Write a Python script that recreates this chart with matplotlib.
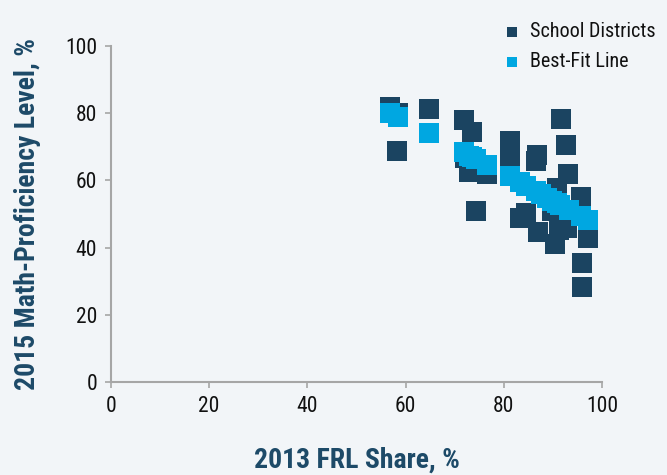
import matplotlib
matplotlib.use('Agg')
from matplotlib import pyplot as plt
from matplotlib import font_manager

# values
district_frl = [56.9, 58.5, 58.3, 64.8, 71.9, 73.6, 72.2, 73.0, 76.6, 74.4,
                81.3, 81.3, 86.8, 86.6, 91.7, 92.7, 93.1, 90.9, 95.8, 84.6,
                83.4, 87.0, 90.5, 89.9, 92.9, 91.3, 97.2, 96.0, 96.0]
district_math = [81.7, 80.2, 68.6, 81.1, 78.1, 74.3, 66.8, 62.6, 61.8, 51.0,
                 71.6, 67.1, 67.7, 65.9, 78.4, 70.4, 61.8, 57.6, 55.2, 50.4,
                 48.7, 44.5, 41.2, 51.0, 45.7, 45.1, 43.0, 35.3, 28.4]

fit_frl = [56.9, 58.4, 64.8, 71.9, 73.0, 73.6, 74.4, 76.6, 81.3, 83.4,
           84.6, 86.6, 87.6, 88.8, 89.9, 90.9, 91.5, 93.3, 95.8, 97.2]
fit_math = [80.2, 79.0, 74.0, 68.3, 67.4, 67.1, 66.5, 64.7, 61.2, 59.4,
            58.2, 56.7, 56.0, 54.9, 54.0, 53.4, 52.8, 51.3, 49.3, 48.1]

ticks = [0, 20, 40, 60, 80, 100]

dark = '#1b4461'
blue = '#00a7e1'
bg = '#f2f5f8'
label_col = '#1d4a68'
grey = '#a6a6a6'

# pick a narrow face if one is there
names = {f.name for f in font_manager.fontManager.ttflist}
narrow = next((n for n in ['Liberation Sans Narrow', 'Roboto Condensed'] if n in names), None)
if narrow:
    font = dict(family=narrow)
else:
    font = dict(family='DejaVu Sans', stretch='condensed')

fig = plt.figure(figsize=(6.67, 4.75), dpi=100, facecolor=bg)
ax = fig.add_axes([0.1664, 0.1958, 0.7361, 0.7074])
ax.set_facecolor(bg)

ax.scatter(district_frl, district_math, s=228, marker='s', color=dark,
           linewidths=0, label='School Districts', zorder=2)
ax.scatter(fit_frl, fit_math, s=228, marker='s', color=blue,
           linewidths=0, label='Best-Fit Line', zorder=3)

ax.set_xlim(0, 100)
ax.set_ylim(0, 100)
ax.set_xticks(ticks)
ax.set_yticks(ticks)
for s in ['top', 'right']:
    ax.spines[s].set_visible(False)
for s in ['left', 'bottom']:
    ax.spines[s].set_color(grey)
    ax.spines[s].set_linewidth(1.5)
ax.tick_params(color=grey, width=1.2, length=4, labelsize=15.5, labelcolor='#111111', pad=6)
for t in ax.get_xticklabels() + ax.get_yticklabels():
    t.set(**font)

ax.set_xlabel('2013 FRL Share, %', fontsize=20, fontweight='bold', color=label_col,
              va='center', **font)
ax.set_ylabel('2015 Math-Proficiency Level, %', fontsize=20, fontweight='bold',
              color=label_col, va='center', **font)
ax.xaxis.set_label_coords(0.5, -0.232)
ax.yaxis.set_label_coords(-0.171, 0.5)

leg = ax.legend(loc='upper left', bbox_to_anchor=(0.744, 0.975), bbox_transform=fig.transFigure,
                frameon=False, markerscale=0.45, handlelength=0.6, handletextpad=0.6,
                labelspacing=0.55, borderpad=0, prop=dict(size=14.5, **font))
for t in leg.get_texts():
    t.set_color('#111111')

fig.savefig('out.png', dpi=100, facecolor=bg)
